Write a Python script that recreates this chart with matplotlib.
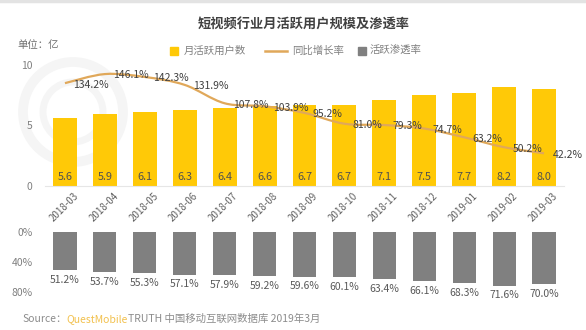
import numpy as np
import matplotlib
matplotlib.use('Agg')
import matplotlib.pyplot as plt
from matplotlib.path import Path
from matplotlib.patches import PathPatch, Circle
import matplotlib.transforms as mtransforms

plt.rcParams['font.family'] = ['Noto Sans CJK SC', 'DejaVu Sans']

months = ['2018-03', '2018-04', '2018-05', '2018-06', '2018-07', '2018-08', '2018-09',
          '2018-10', '2018-11', '2018-12', '2019-01', '2019-02', '2019-03']
mau = [5.6, 5.9, 6.1, 6.3, 6.4, 6.6, 6.7, 6.7, 7.1, 7.5, 7.7, 8.2, 8.0]
yoy = [134.2, 146.1, 142.3, 131.9, 107.8, 103.9, 95.2, 81.0, 79.3, 74.7, 63.2, 50.2, 42.2]
penetration = [51.2, 53.7, 55.3, 57.1, 57.9, 59.2, 59.6, 60.1, 63.4, 66.1, 68.3, 71.6, 70.0]

YELLOW = '#FFC907'
LINE = '#E0A85A'
GRAY_BAR = '#808080'
TXT = '#404040'
TICK = '#808080'

fig = plt.figure(figsize=(5.86, 3.30), dpi=100)
x = np.arange(len(months))

# background layer in pixel units: faint logo rings + top rule
bg = fig.add_axes([0, 0, 1, 1], zorder=-1)
bg.set_xlim(0, 586)
bg.set_ylim(330, 0)
bg.axis('off')
for r, lw in [(50, 7), (30, 5)]:
    bg.add_patch(Circle((73, 112), r, fill=False, ec='#f5f5f5', lw=lw))
bg.plot([0, 586], [1, 1], color='#e3e3e3', lw=2.5)

# ---- upper panel: monthly active users + yoy growth ----
ax = fig.add_axes([45 / 586, 1 - 185.5 / 330, 519 / 586, 120.5 / 330])
ax.patch.set_alpha(0)
ax.bar(x, mau, width=0.6, color=YELLOW, zorder=2)
for xi, v in zip(x, mau):
    ax.text(xi, 0.7, '%.1f' % v, ha='center', va='center', fontsize=7.8, color='#505050', zorder=3)
ax.set_xlim(-0.5, len(months) - 0.5)
ax.set_ylim(0, 10)
ax.set_yticks([0, 5, 10])
ax.tick_params(axis='y', length=0, labelsize=7.5, labelcolor=TICK, pad=9)
ax.tick_params(axis='x', length=0, labelsize=7, labelcolor='#606060', pad=2)
for s in ['top', 'right', 'left']:
    ax.spines[s].set_visible(False)
ax.spines['bottom'].set_color('#e6e6e6')
ax.set_xticks(x)
ax.set_xticklabels(months)
offset = mtransforms.ScaledTranslation(6 / 72, -2 / 72, fig.dpi_scale_trans)
for lab in ax.get_xticklabels():
    lab.set_rotation(45)
    lab.set_ha('right')
    lab.set_va('top')
    lab.set_rotation_mode('anchor')
    lab.set_transform(lab.get_transform() + offset)

ax2 = ax.twinx()
ax2.set_ylim(0, 158)
ax2.axis('off')

# smooth curve through the growth values (Catmull-Rom as cubic Beziers)
pts = np.column_stack([x, yoy]).astype(float)
verts = [tuple(pts[0])]
codes = [Path.MOVETO]
for i in range(len(pts) - 1):
    p0 = pts[max(i - 1, 0)]
    p1 = pts[i]
    p2 = pts[i + 1]
    p3 = pts[min(i + 2, len(pts) - 1)]
    c1 = p1 + (p2 - p0) / 6.0
    c2 = p2 - (p3 - p1) / 6.0
    verts += [tuple(c1), tuple(c2), tuple(p2)]
    codes += [Path.CURVE4] * 3
ax2.add_patch(PathPatch(Path(verts, codes), fill=False, ec=LINE, lw=1.6, zorder=4))
lab_off = mtransforms.ScaledTranslation(6 / 72, -1 / 72, fig.dpi_scale_trans)
for xi, v in zip(x, yoy):
    ax2.text(xi, v, '%.1f%%' % v, ha='left', va='center', fontsize=7.5, color=TXT,
             transform=ax2.transData + lab_off, clip_on=False, zorder=5)

# ---- lower panel: penetration rate ----
bx = fig.add_axes([45 / 586, 1 - 292 / 330, 519 / 586, 60.5 / 330])
bx.patch.set_alpha(0)
bx.bar(x, penetration, width=0.58, color=GRAY_BAR)
for xi, v in zip(x, penetration):
    bx.annotate('%.1f%%' % v, (xi, v), xytext=(0, -7), textcoords='offset points',
                ha='center', va='center', fontsize=7.5, color='#595959', annotation_clip=False)
bx.set_xlim(-0.5, len(months) - 0.5)
bx.set_ylim(80, 0)
bx.set_yticks([0, 40, 80])
bx.set_yticklabels(['0%', '40%', '80%'])
bx.set_xticks([])
bx.tick_params(axis='y', length=0, labelsize=7.5, labelcolor=TICK, pad=9)
for s in bx.spines.values():
    s.set_visible(False)

# ---- titles, legend, source ----
fig.text(304 / 586, 1 - 25 / 330, '短视频行业月活跃用户规模及渗透率', ha='center', va='center',
         fontsize=9.5, fontweight='bold', color=TXT)
fig.text(17 / 586, 1 - 45 / 330, '单位：亿', ha='left', va='center', fontsize=7.5, color='#707070')

ly = 1 - 51 / 330
fig.patches.append(plt.Rectangle((170 / 586, ly - 4 / 330), 8 / 586, 8 / 330,
                                 transform=fig.transFigure, color=YELLOW))
fig.text(184 / 586, ly, '月活跃用户数', ha='left', va='center', fontsize=7.5, color='#808080')
fig.add_artist(plt.Line2D([265 / 586, 287 / 586], [ly, ly], transform=fig.transFigure,
                          color=LINE, lw=1.8))
fig.text(292 / 586, ly, '同比增长率', ha='left', va='center', fontsize=7.5, color='#808080')
fig.patches.append(plt.Rectangle((358 / 586, ly - 4 / 330), 8 / 586, 8 / 330,
                                 transform=fig.transFigure, color=GRAY_BAR))
fig.text(370 / 586, ly, '活跃渗透率', ha='left', va='center', fontsize=7.5, color='#808080')

sy = 1 - 319 / 330
renderer = fig.canvas.get_renderer()
sx = 22 / 586
for txt, col in [('Source：', '#8c8c8c'), ('QuestMobile', '#F2C14E'),
                 ('TRUTH 中国移动互联网数据库 2019年3月', '#8c8c8c')]:
    t = fig.text(sx, sy, txt, ha='left', va='center', fontsize=7.5, color=col)
    bb = t.get_window_extent(renderer)
    sx = bb.x1 / fig.bbox.width

fig.savefig('out.png', dpi=100, facecolor='white')
